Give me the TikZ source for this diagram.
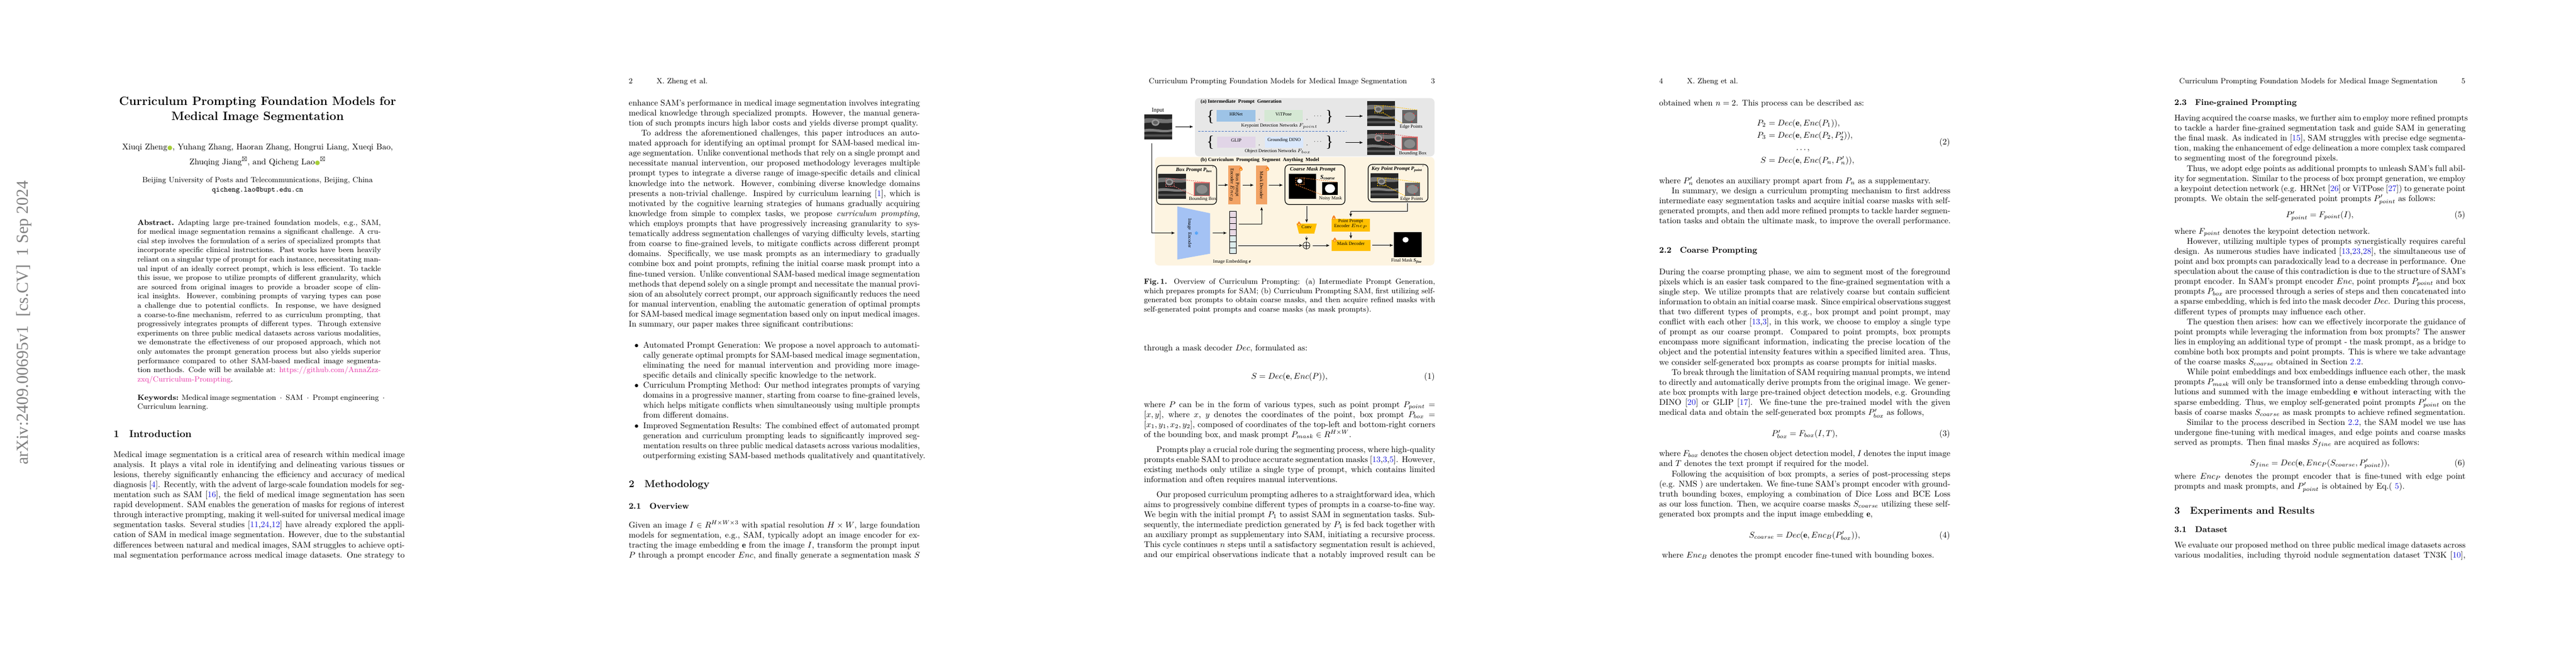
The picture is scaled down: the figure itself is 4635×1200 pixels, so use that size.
\documentclass[tikz,border=0pt]{standalone}
\usepackage{amsmath,amssymb}
\usepackage{fontspec}
\newfontfamily\figfont{Liberation Serif}
\newfontfamily\symfont{DejaVu Sans}
\usetikzlibrary{arrows,fit}

\definecolor{linkblue}{rgb}{0.1,0.1,0.85}
\definecolor{urlmag}{rgb}{0.9,0.2,0.65}
\definecolor{orcidgreen}{HTML}{A6CE39}
\definecolor{panelgray}{HTML}{E7E7E7}
\definecolor{panelcream}{HTML}{FDF4E1}
\definecolor{hrblue}{HTML}{9DC3E6}
\definecolor{vitgreen}{HTML}{D5E8D4}
\definecolor{glippur}{HTML}{E1D5E7}
\definecolor{dinoblue}{HTML}{DAE8FC}
\definecolor{orbox}{HTML}{F2A365}
\definecolor{gold}{HTML}{FFC000}
\definecolor{encblue}{HTML}{A4C2F4}
\definecolor{embpink}{HTML}{EAD9E4}
\definecolor{embcyan}{HTML}{DCEDEC}
\definecolor{dashblue}{HTML}{4472C4}
\definecolor{yeldash}{HTML}{FFC000}
\definecolor{reddash}{HTML}{E06666}
\definecolor{oradash}{HTML}{ED7D31}
\definecolor{snowblue}{HTML}{1E90FF}
\definecolor{flameor}{HTML}{F57C1F}
\definecolor{flameyel}{HTML}{FFD966}

\newcommand{\cb}[1]{\textcolor{linkblue}{#1}}
\newcommand{\orc}{{\symfont\fontsize{7}{7}\selectfont\textcolor{orcidgreen}{●}}}
\newcommand{\kwsep}{\enskip$\cdot$\enskip}
% one text block, set line by line
\newcommand{\tb}[2][12.2cm]{\begin{minipage}[t]{#1}#2\end{minipage}}
\newcommand{\jl}[1]{\hbox to \linewidth{#1}}
\newcommand{\el}[1]{\hbox{#1}}
\newcommand{\ind}{\hspace{15pt}}

\tikzset{
  usimg/.pic={
    \fill[black!85] (0,0) rectangle (50,45);
    \fill[black!55] (0,8) .. controls (15,5) and (35,11) .. (50,8) -- (50,15) .. controls (35,18) and (15,13) .. (0,16) -- cycle;
    \fill[black!50] (0,27) .. controls (18,24) and (32,31) .. (50,27) -- (50,31) .. controls (32,35) and (18,29) .. (0,32) -- cycle;
    \fill[black!68] (0,36) rectangle (50,40);
    \fill[black!40] (20,15) ellipse (7 and 6);
    \fill[black!62] (20,15) ellipse (4.5 and 3.5);
  },
  inset/.pic={
    \fill[black!60] (0,0) rectangle (27.3,23.7);
    \fill[black!45] (13.6,12) ellipse (10 and 8);
  },
  flame/.pic={
    \fill[flameor] (0,-4.5) .. controls (1,-2.5) and (3.2,-1.5) .. (3.2,0.8) .. controls (3.2,2.8) and (1.7,3.8) .. (0,3.8) .. controls (-1.7,3.8) and (-3.2,2.8) .. (-3.2,0.8) .. controls (-3.2,-1.5) and (-1,-2.5) .. (0,-4.5) -- cycle;
    \fill[flameyel] (0,-0.5) .. controls (1.2,0.5) and (1.8,1.5) .. (1.6,2.2) .. controls (1.4,3) and (-1.4,3) .. (-1.6,2.2) .. controls (-1.8,1.5) and (-1.2,0.5) .. (0,-0.5) -- cycle;
  }
}

\begin{document}
\begin{tikzpicture}[x=0.02329cm, y=-0.02329cm, >=stealth']
    \tikzstyle{txt}=[anchor=base west, inner sep=0pt]
    \tikzstyle{ctr}=[anchor=base, inner sep=0pt]
    \tikzstyle{rgt}=[anchor=base east, inner sep=0pt]
    \tikzstyle{head}=[anchor=base west, inner sep=0pt, font=\small]
    \tikzstyle{sect}=[anchor=base west, inner sep=0pt, font=\large\bfseries]
    \tikzstyle{subsect}=[anchor=base west, inner sep=0pt, font=\bfseries]
    \tikzstyle{flab}=[inner sep=0pt, font=\figfont\fontsize{5.6}{6.2}\selectfont]
    \tikzstyle{fbt}=[inner sep=0pt, font=\figfont\bfseries\itshape\fontsize{6.2}{7}\selectfont]
    \tikzstyle{ftitle}=[anchor=west, inner sep=0pt, font=\figfont\bfseries\fontsize{6}{7}\selectfont]
    \tikzstyle{fitbox}=[inner sep=0pt, outer sep=0pt]
    \tikzstyle{netbox}=[inner sep=0pt, outer sep=0pt, font=\figfont\fontsize{5.6}{6.2}\selectfont, align=center]
    \tikzstyle{brace}=[inner sep=0pt, font=\figfont\fontsize{19}{19}\selectfont]
    \tikzstyle{pframe}=[draw, line width=0.8pt, rounded corners=5pt, inner sep=0pt]
    \tikzstyle{arr}=[->, line width=0.4pt]
    \tikzstyle{ydash}=[yeldash, line width=0.6pt, dash pattern=on 1.5pt off 1pt]
    \tikzstyle{rdash}=[reddash, line width=0.6pt, dash pattern=on 1.5pt off 1pt]
    \tikzstyle{odash}=[oradash, line width=0.6pt, dash pattern=on 1.5pt off 1pt]

    \useasboundingbox (0,0) rectangle (4635,1200);
    \fill[white] (0,0) rectangle (4635,1200);

    % page 1
    \node[rotate=90, anchor=base west, inner sep=0pt, text=black!50, font=\figfont\fontsize{20}{20}\selectfont] (stamp) at (50.5,837) {arXiv:2409.00695v1\ \ [cs.CV]\ \ 1 Sep 2024};
    \node[ctr, font=\Large\bfseries] (title1) at (463.5,189) {Curriculum Prompting Foundation Models for};
    \node[ctr, font=\Large\bfseries] (title2) at (463.5,216) {Medical Image Segmentation};
    \node[ctr] (auth1) at (463.5,269) {Xiuqi Zheng\orc, Yuhang Zhang, Haoran Zhang, Hongrui Liang, Xueqi Bao,};
    \node[ctr] (auth2) at (463.5,296) {Zhuqing Jiang$^{\boxtimes}$, and Qicheng Lao\orc$^{\boxtimes}$};
    \node[ctr, font=\small] (inst) at (463.5,328) {Beijing University of Posts and Telecommunications, Beijing, China};
    \node[ctr, font=\small\ttfamily] (email) at (463.5,345) {qicheng.lao@bupt.edu.cn};
    \node[txt] (abstract) at (247,405) {\tb[10.2cm]{\small
        \jl{\textbf{Abstract.}\enspace Adapting large pre-trained foundation models, e.g., SAM,}
        \jl{for medical image segmentation remains a significant challenge. A cru-}
        \jl{cial step involves the formulation of a series of specialized prompts that}
        \jl{incorporate specific clinical instructions. Past works have been heavily}
        \jl{reliant on a singular type of prompt for each instance, necessitating man-}
        \jl{ual input of an ideally correct prompt, which is less efficient. To tackle}
        \jl{this issue, we propose to utilize prompts of different granularity, which}
        \jl{are sourced from original images to provide a broader scope of clin-}
        \jl{ical insights. However, combining prompts of varying types can pose}
        \jl{a challenge due to potential conflicts. In response, we have designed}
        \jl{a coarse-to-fine mechanism, referred to as curriculum prompting, that}
        \jl{progressively integrates prompts of different types. Through extensive}
        \jl{experiments on three public medical datasets across various modalities,}
        \jl{we demonstrate the effectiveness of our proposed approach, which not}
        \jl{only automates the prompt generation process but also yields superior}
        \jl{performance compared to other SAM-based medical image segmenta-}
        \jl{tion methods. Code will be available at: \textcolor{urlmag}{https://github.com/AnnaZzz-}}
        \el{\textcolor{urlmag}{zxq/Curriculum-Prompting}.}}};
    \node[txt] (keywords) at (247,720) {\tb[10.2cm]{\small
        \jl{\textbf{Keywords:} Medical image segmentation\kwsep SAM\kwsep Prompt engineering\enskip$\cdot$}
        \el{Curriculum learning.}}};
    \node[sect] (sec1) at (204,787) {1\quad Introduction};
    \node[txt] (intro) at (204,823) {\tb{
        \jl{Medical image segmentation is a critical area of research within medical image}
        \jl{analysis. It plays a vital role in identifying and delineating various tissues or}
        \jl{lesions, thereby significantly enhancing the efficiency and accuracy of medical}
        \jl{diagnosis [\cb{4}]. Recently, with the advent of large-scale foundation models for seg-}
        \jl{mentation such as SAM [\cb{16}], the field of medical image segmentation has seen}
        \jl{rapid development. SAM enables the generation of masks for regions of interest}
        \jl{through interactive prompting, making it well-suited for universal medical image}
        \jl{segmentation tasks. Several studies [\cb{11},\cb{24},\cb{12}] have already explored the appli-}
        \jl{cation of SAM in medical image segmentation. However, due to the substantial}
        \jl{differences between natural and medical images, SAM struggles to achieve opti-}
        \jl{mal segmentation performance across medical image datasets. One strategy to}}};

    % page 2
    \node[head] (pn2) at (1131,150) {2};
    \node[head] (rh2) at (1181,150) {X. Zheng et al.};
    \node[txt] (p2a) at (1131,190) {\tb{
        \jl{enhance SAM's performance in medical image segmentation involves integrating}
        \jl{medical knowledge through specialized prompts. However, the manual genera-}
        \el{tion of such prompts incurs high labor costs and yields diverse prompt quality.}}};
    \node[txt] (p2b) at (1131,244.5) {\tb{
        \jl{\ind To address the aforementioned challenges, this paper introduces an auto-}
        \jl{mated approach for identifying an optimal prompt for SAM-based medical im-}
        \jl{age segmentation. Unlike conventional methods that rely on a single prompt and}
        \jl{necessitate manual intervention, our proposed methodology leverages multiple}
        \jl{prompt types to integrate a diverse range of image-specific details and clinical}
        \jl{knowledge into the network. However, combining diverse knowledge domains}
        \jl{presents a non-trivial challenge. Inspired by curriculum learning [\cb{1}], which is}
        \jl{motivated by the cognitive learning strategies of humans gradually acquiring}
        \jl{knowledge from simple to complex tasks, we propose \emph{curriculum prompting},}
        \jl{which employs prompts that have progressively increasing granularity to sys-}
        \jl{tematically address segmentation challenges of varying difficulty levels, starting}
        \jl{from coarse to fine-grained levels, to mitigate conflicts across different prompt}
        \jl{domains. Specifically, we use mask prompts as an intermediary to gradually}
        \jl{combine box and point prompts, refining the initial coarse mask prompt into a}
        \jl{fine-tuned version. Unlike conventional SAM-based medical image segmentation}
        \jl{methods that depend solely on a single prompt and necessitate the manual provi-}
        \jl{sion of an absolutely correct prompt, our approach significantly reduces the need}
        \jl{for manual intervention, enabling the automatic generation of optimal prompts}
        \jl{for SAM-based medical image segmentation based only on input medical images.}
        \el{In summary, our paper makes three significant contributions:}}};
    \node[ctr] (bul1) at (1145.3,626) {$\bullet$};
    \node[txt] (item1) at (1157,626) {\tb[11.59cm]{
        \jl{Automated Prompt Generation: We propose a novel approach to automati-}
        \jl{cally generate optimal prompts for SAM-based medical image segmentation,}
        \jl{eliminating the need for manual intervention and providing more image-}
        \el{specific details and clinically specific knowledge to the network.}}};
    \node[ctr] (bul2) at (1145.3,698.6) {$\bullet$};
    \node[txt] (item2) at (1157,698.6) {\tb[11.59cm]{
        \jl{Curriculum Prompting Method: Our method integrates prompts of varying}
        \jl{domains in a progressive manner, starting from coarse to fine-grained levels,}
        \jl{which helps mitigate conflicts when simultaneously using multiple prompts}
        \el{from different domains.}}};
    \node[ctr] (bul3) at (1145.3,771.2) {$\bullet$};
    \node[txt] (item3) at (1157,771.2) {\tb[11.59cm]{
        \jl{Improved Segmentation Results: The combined effect of automated prompt}
        \jl{generation and curriculum prompting leads to significantly improved seg-}
        \jl{mentation results on three public medical datasets across various modalities,}
        \el{outperforming existing SAM-based methods qualitatively and quantitatively.}}};
    \node[sect] (sec2) at (1131,877) {2\quad Methodology};
    \node[subsect] (sec21) at (1131,916) {2.1\quad Overview};
    \node[txt] (p2c) at (1131,950) {\tb{
        \jl{Given an image $I \in R^{H\times W\times 3}$ with spatial resolution $H\times W$, large foundation}
        \jl{models for segmentation, e.g., SAM, typically adopt an image encoder for ex-}
        \jl{tracting the image embedding $\mathbf{e}$ from the image $I$, transform the prompt input}
        \jl{$P$ through a prompt encoder $Enc$, and finally generate a segmentation mask $S$}}};

    % page 3: header and figure
    \node[rgt, font=\small] (rh3) at (2532,150) {Curriculum Prompting Foundation Models for Medical Image Segmentation};
    \node[rgt, font=\small] (pn3) at (2582,150) {3};

    \node[fitbox, fill=panelgray, rounded corners=5pt, fit={(2150,176.7) (2581,281.7)}] (panA) {};
    \node[fitbox, fill=panelcream, rounded corners=5pt, fit={(2078,282.7) (2581,478)}] (panB) {};
    \node[ftitle] (titA) at (2160,183.3) {(a) Intermediate\ \ Prompt\ \ Generation};
    \node[ftitle] (titB) at (2160,288.3) {(b) Curriculum\ \ Prompting\ \ Segment\ \ Anything\ \ Model};

    \node[flab, font=\figfont\fontsize{7}{8}\selectfont] (inlab) at (2083.5,199) {Input};
    \pic at (2059,205.7) {usimg};
    \node[fitbox, fit={(2059,205.7) (2108,250.7)}] (inimg) {};

    \node[brace] (lb1) at (2178,210.5) {\{};
    \node[brace] (rb1) at (2392,210.5) {\}};
    \node[brace] (lb2) at (2178,256) {\{};
    \node[brace] (rb2) at (2392,256) {\}};
    \node[netbox, fill=hrblue, fit={(2189,198) (2259,219)}] (hrnet) {HRNet};
    \node[netbox, fill=vitgreen, fit={(2275,198) (2344,219)}] (vitpose) {ViTPose};
    \node[netbox, fill=glippur, fit={(2190,245.7) (2259,265.7)}] (glip) {GLIP};
    \node[netbox, fill=dinoblue, fit={(2276,245.7) (2345,265.7)}] (dino) {Grounding DINO};
    \node[flab] (cm1) at (2266,216) {,};
    \node[flab] (cm2) at (2352,216) {,};
    \node[flab] (cm3) at (2266,261.7) {,};
    \node[flab] (cm4) at (2352,261.7) {,};
    \node[flab] (dt1) at (2372,209) {$\cdots$};
    \node[flab] (dt2) at (2372,255.7) {$\cdots$};
    \node[flab] (kplab) at (2302,226.7) {Keypoint Detection Networks $F_{point}$};
    \node[flab] (odlab) at (2299,272.7) {Object Detection Networks $F_{box}$};
    \draw[dashblue, line width=0.6pt, dash pattern=on 2.5pt off 1.5pt] (2156,236.7) -- (2423,236.7);

    % outputs of (a)
    \pic at (2460,181.7) {usimg};
    \node[fitbox, fit={(2460,181.7) (2510,226.7)}] (us1) {};
    \pic at (2522.7,198) {inset};
    \node[fitbox, fit={(2522.7,198) (2550,221.7)}] (in1) {};
    \node[fitbox, draw=yeldash, line width=0.6pt, dash pattern=on 1.5pt off 1pt, fit={(2473,190) (2488,203)}] (bx1) {};
    \draw[ydash] (bx1.north east) -- (in1.north east);
    \draw[ydash] (bx1.south east) -- (in1.south west);
    \fill[red!85] (2526.5,206.5) circle (1) (2543,204.5) circle (1) (2547,208) circle (1) (2540,219) circle (1);
    \node[flab] (eplab1) at (2539,228.3) {Edge Points};

    \pic at (2460,234) {usimg};
    \node[fitbox, fit={(2460,234) (2510,279)}] (us2) {};
    \pic at (2522.7,247) {inset};
    \node[fitbox, draw=reddash, line width=0.8pt, fit={(2522.7,247) (2550,270)}] (in2) {};
    \node[fitbox, draw=reddash, line width=0.6pt, dash pattern=on 1.5pt off 1pt, fit={(2475,240) (2489,252.7)}] (bx2) {};
    \draw[rdash] (bx2.north east) -- (in2.north east);
    \draw[rdash] (bx2.south east) -- (in2.south west);
    \node[flab] (bblab2) at (2542,276) {Bounding Box};

    \coordinate (ar1) at (2420.7,209);
    \coordinate (ar2) at (2420.7,256.7);
    \draw[arr, shorten >=5.5pt] (ar1) -- (ar1 -| us1.west);
    \draw[arr, shorten >=5.5pt] (ar2) -- (ar2 -| us2.west);

    % (b) box prompt branch
    \node[pframe, fit={(2081,298) (2189,368)}] (bpbox) {};
    \node[fbt] (bptit) at (2150,305.5) {Box Prompt P\textsubscript{box}\textsuperscript{\textquoteright}};
    \pic at (2084,312.7) {usimg};
    \pic at (2149,329) {inset};
    \node[fitbox, draw=reddash, line width=0.8pt, fit={(2149,329) (2176.7,352.7)}] (in3) {};
    \node[fitbox, draw=reddash, line width=0.6pt, dash pattern=on 1.5pt off 1pt, fit={(2097.7,321.7) (2112.7,335.7)}] (bx3) {};
    \draw[rdash] (bx3.north east) -- (in3.north east);
    \draw[rdash] (bx3.south east) -- (in3.south west);
    \node[flab] (bblab3) at (2164,358.3) {Bounding Box};

    \node[fitbox, fill=orbox, fit={(2210,298.3) (2231.7,368.3)}] (bpenc) {};
    \node[flab, rotate=-90, align=center] (bpenclab) at (bpenc.center) {Box Prompt\\Encoder $Enc_B$};
    \pic at (2232.7,304) {flame};
    \node[fitbox, fill=orbox, fit={(2260,298.3) (2280,368.3)}] (mdec1) {};
    \node[flab, rotate=-90] (mdec1lab) at (mdec1.center) {Mask Decoder};
    \pic at (2280.5,304) {flame};

    % coarse mask prompt
    \node[pframe, fit={(2312,296.7) (2420,368.3)}] (cmbox) {};
    \node[fbt] (cmtit) at (2362,305.5) {Coarse Mask Prompt};
    \node[fbt, font=\figfont\bfseries\itshape\fontsize{7}{8}\selectfont] (scoarse) at (2389,319.5) {S\textsubscript{coarse}};
    \node[fitbox, fill=black, fit={(2319,313.3) (2368,358.3)}] (cmimg) {};
    \fill[white] (2338.5,326) ellipse (4.5 and 4);
    \node[fitbox, fill=black, fit={(2379,328) (2407,351)}] (in5) {};
    \fill[white] (2393,339.5) ellipse (9 and 8);
    \node[fitbox, draw=oradash, line width=0.6pt, dash pattern=on 1.5pt off 1pt, fit={(2331.7,320.7) (2346.7,332.7)}] (bx5) {};
    \draw[odash] (bx5.north east) -- (in5.north east);
    \draw[odash] (bx5.south west) -- (in5.south west);
    \node[flab] (nmlab) at (2394,357.7) {Noisy Mask};

    % key point prompt
    \node[pframe, fit={(2461.7,296) (2569.3,363.3)}] (kpbox) {};
    \node[fbt] (kptit) at (2515,304) {Key Point Prompt P\textsubscript{point}\textsuperscript{\textquoteright}};
    \pic at (2465.7,311.7) {usimg};
    \pic at (2528,329) {inset};
    \node[fitbox, fit={(2528,329) (2555,352.7)}] (in6) {};
    \node[fitbox, draw=yeldash, line width=0.6pt, dash pattern=on 1.5pt off 1pt, fit={(2478,320) (2493,334)}] (bx6) {};
    \draw[ydash] (bx6.north east) -- (in6.north east);
    \draw[ydash] (bx6.south east) -- (in6.south west);
    \fill[red!85] (2532,336) circle (1) (2547,334.5) circle (1) (2552,338) circle (1) (2545,349) circle (1);
    \node[flab] (eplab6) at (2540,358.3) {Edge Points};

    % encoder and embedding
    \fill[encblue] (2118.3,371.7) -- (2177.3,384) -- (2177.3,456.7) -- (2118.3,467.3) -- cycle;
    \node[fitbox, fit={(2118.3,371.7) (2177.3,467.3)}] (imgenc) {};
    \node[flab, rotate=-90] (imgenclab) at (2140,420) {Image\ \ Encoder};
    \node[inner sep=0pt, text=snowblue, font=\symfont\fontsize{6}{6}\selectfont] (snow) at (2153,420) {❄};
    \foreach \i/\c in {0/embpink,1/embpink,2/embpink,3/embpink,4/embcyan,5/embcyan,6/embcyan}
        \draw[fill=\c, line width=0.4pt] (2212.7,380.7+\i*10.857) rectangle +(11.3,10.857);
    \node[fitbox, fit={(2212.7,380.7) (2224,456.7)}] (emb) {};
    \node[flab] (emblab) at (2216.7,471) {Image Embedding \textbf{\textit{e}}};

    % fine branch
    \fill[gold] (2332.7,402.7) -- (2369.3,402.7) -- (2364.7,420.7) -- (2337.3,420.7) -- cycle;
    \node[netbox, fit={(2332.7,402.7) (2369.3,420.7)}] (conv) {Conv};
    \pic at (2337.3,403) {flame};
    \node[circle, draw, line width=0.5pt, minimum size=8.3pt, inner sep=0pt] (sum) at (2350.7,442) {};
    \draw[line width=0.5pt] (sum.north) -- (sum.south) (sum.west) -- (sum.east);
    \node[netbox, fill=gold, fit={(2395.7,394.3) (2465,417.3)}] (ppenc) {Point Prompt\\Encoder $Enc_P$};
    \pic at (2400,392) {flame};
    \node[netbox, fill=gold, fit={(2395.7,431.7) (2465.7,451.7)}] (mdec2) {Mask Decoder};
    \pic at (2401.7,432) {flame};
    \node[fitbox, fill=black, fit={(2508.3,417.7) (2558.3,462.7)}] (fmask) {};
    \fill[white] (2529,431.7) ellipse (5.5 and 5);
    \node[flab] (fmlab) at (2530.7,470) {Final Mask \textbf{\textit{S\textsubscript{fine}}}};

    % connectors
    \draw[arr, shorten <=4.6pt, shorten >=2.6pt] (inimg.east) -- (inimg.east -| panA.west);
    \coordinate (intap) at (2072.7,250.7);
    \draw[arr, shorten <=4.8pt, shorten >=3.3pt] (intap) |- (imgenc.west);
    \draw[arr, shorten <=2.9pt, shorten >=4pt] (imgenc.east) -- (imgenc.east -| emb.west);
    \coordinate (embA) at (2224,403.3);
    \coordinate (embB) at (2224,442);
    \draw[arr, shorten <=3.5pt, shorten >=3.3pt] (embA) -| (mdec1.south);
    \draw[arr, shorten <=2.7pt, shorten >=0.5pt] (embB) -- (sum.west);
    \draw[arr, shorten <=1.3pt, shorten >=0.6pt] (bpbox.east) -- (bpbox.east -| bpenc.west);
    \draw[arr, shorten <=2.8pt, shorten >=3.3pt] (bpenc.east) -- (mdec1.west);
    \draw[arr, shorten <=1.8pt, shorten >=2.6pt] (mdec1.east) -- (mdec1.east -| cmbox.west);
    \draw[arr, shorten <=1.6pt, shorten >=1.5pt] (cmbox.south -| conv.north) -- (conv.north);
    \draw[arr, shorten <=2.8pt, shorten >=1.5pt] (conv.south) -- (sum.north);
    \draw[arr, shorten <=3pt, shorten >=2.6pt] (sum.east) -- (sum.east -| mdec2.west);
    \coordinate (kpout) at (2532.3,363.3);
    \draw[arr, shorten <=1.6pt, shorten >=2.8pt] (kpout) -- ++(0,16.7) -| (ppenc.north);
    \draw[arr, shorten <=0.6pt, shorten >=1.6pt] (ppenc.south) -- (mdec2.north);
    \draw[arr, shorten <=2.2pt, shorten >=1.5pt] (mdec2.east) -- (mdec2.east -| fmask.west);

    % page 3 text
    \node[txt] (caption) at (2058,511.5) {\tb{\small
        \jl{\textbf{Fig.\,1.} Overview of Curriculum Prompting: (a) Intermediate Prompt Generation,}
        \jl{which prepares prompts for SAM; (b) Curriculum Prompting SAM, first utilizing self-}
        \jl{generated box prompts to obtain coarse masks, and then acquire refined masks with}
        \el{self-generated point prompts and coarse masks (as mask prompts).}}};
    \node[txt] (p3a) at (2058,631) {through a mask decoder $Dec$, formulated as:};
    \node[ctr] (eq1) at (2320,682) {$S = Dec(\mathbf{e}, Enc(P)),$};
    \node[rgt] (eqn1) at (2582,682) {(1)};
    \node[txt] (p3b) at (2058,733) {\tb{
        \jl{where $P$ can be in the form of various types, such as point prompt $P_{point} =$}
        \jl{$[x, y]$, where $x$, $y$ denotes the coordinates of the point, box prompt $P_{box} =$}
        \jl{$[x_1, y_1, x_2, y_2]$, composed of coordinates of the top-left and bottom-right corners}
        \el{of the bounding box, and mask prompt $P_{mask} \in R^{H\times W}$.}}};
    \node[txt] (p3c) at (2058,814) {\tb{
        \jl{\ind Prompts play a crucial role during the segmenting process, where high-quality}
        \jl{prompts enable SAM to produce accurate segmentation masks [\cb{13},\cb{3},\cb{5}]. However,}
        \jl{existing methods only utilize a single type of prompt, which contains limited}
        \el{information and often requires manual interventions.}}};
    \node[txt] (p3d) at (2058,895) {\tb{
        \jl{\ind Our proposed curriculum prompting adheres to a straightforward idea, which}
        \jl{aims to progressively combine different types of prompts in a coarse-to-fine way.}
        \jl{We begin with the initial prompt $P_1$ to assist SAM in segmentation tasks. Sub-}
        \jl{sequently, the intermediate prediction generated by $P_1$ is fed back together with}
        \jl{an auxiliary prompt as supplementary into SAM, initiating a recursive process.}
        \jl{This cycle continues $n$ steps until a satisfactory segmentation result is achieved,}
        \jl{and our empirical observations indicate that a notably improved result can be}}};

    % page 4
    \node[head] (pn4) at (2985,150) {4};
    \node[head] (rh4) at (3035,150) {X. Zheng et al.};
    \node[txt] (p4a) at (2985,190) {obtained when $n = 2$. This process can be described as:};
    \node[rgt] (eq2l1) at (3178,226) {$P_2$};
    \node[txt] (eq2r1) at (3178,226) {${}= Dec(\mathbf{e}, Enc(P_1)),$};
    \node[rgt] (eq2l2) at (3178,248.5) {$P_3$};
    \node[txt] (eq2r2) at (3178,248.5) {${}= Dec(\mathbf{e}, Enc(P_2, P'_2)),$};
    \node[ctr] (eq2d) at (3244,270) {$\dots,$};
    \node[rgt] (eq2l4) at (3178,293) {$S$};
    \node[txt] (eq2r4) at (3178,293) {${}= Dec(\mathbf{e}, Enc(P_n, P'_n)),$};
    \node[rgt] (eqn2) at (3509,260) {(2)};
    \node[txt] (p4b) at (2985,330) {where $P'_n$ denotes an auxiliary prompt apart from $P_n$ as a supplementary.};
    \node[txt] (p4c) at (2985,348.5) {\tb{
        \jl{\ind In summary, we design a curriculum prompting mechanism to first address}
        \jl{intermediate easy segmentation tasks and acquire initial coarse masks with self-}
        \jl{generated prompts, and then add more refined prompts to tackle harder segmen-}
        \el{tation tasks and obtain the ultimate mask, to improve the overall performance.}}};
    \node[subsect] (sec22) at (2985,455) {2.2\quad Coarse Prompting};
    \node[txt] (p4d) at (2985,494) {\tb{
        \jl{During the coarse prompting phase, we aim to segment most of the foreground}
        \jl{pixels which is an easier task compared to the fine-grained segmentation with a}
        \jl{single step. We utilize prompts that are relatively coarse but contain sufficient}
        \jl{information to obtain an initial coarse mask. Since empirical observations suggest}
        \jl{that two different types of prompts, e.g., box prompt and point prompt, may}
        \jl{conflict with each other [\cb{13},\cb{3}], in this work, we choose to employ a single type}
        \jl{of prompt as our coarse prompt. Compared to point prompts, box prompts}
        \jl{encompass more significant information, indicating the precise location of the}
        \jl{object and the potential intensity features within a specified limited area. Thus,}
        \el{we consider self-generated box prompts as coarse prompts for initial masks.}}};
    \node[txt] (p4e) at (2985,675.5) {\tb{
        \jl{\ind To break through the limitation of SAM requiring manual prompts, we intend}
        \jl{to directly and automatically derive prompts from the original image. We gener-}
        \jl{ate box prompts with large pre-trained object detection models, e.g. Grounding}
        \jl{DINO [\cb{20}] or GLIP [\cb{17}]. We fine-tune the pre-trained model with the given}
        \el{medical data and obtain the self-generated box prompts $P'_{box}$ as follows,}}};
    \node[ctr] (eq3) at (3247,785.5) {$P'_{box} = F_{box}(I, T),$};
    \node[rgt] (eqn3) at (3509,785.5) {(3)};
    \node[txt] (p4f) at (2985,821) {\tb{
        \jl{where $F_{box}$ denotes the chosen object detection model, $I$ denotes the input image}
        \el{and $T$ denotes the text prompt if required for the model.}}};
    \node[txt] (p4g) at (2985,858) {\tb{
        \jl{\ind Following the acquisition of box prompts, a series of post-processing steps}
        \jl{(e.g. NMS ) are undertaken. We fine-tune SAM's prompt encoder with ground-}
        \jl{truth bounding boxes, employing a combination of Dice Loss and BCE Loss}
        \jl{as our loss function. Then, we acquire coarse masks $S_{coarse}$ utilizing these self-}
        \el{generated box prompts and the input image embedding $\mathbf{e}$,}}};
    \node[ctr] (eq4) at (3247,968) {$S_{coarse} = Dec(\mathbf{e}, Enc_B(P'_{box})),$};
    \node[rgt] (eqn4) at (3509,968) {(4)};
    \node[txt] (p4h) at (2985,1004) {\ where $Enc_B$ denotes the prompt encoder fine-tuned with bounding boxes.};

    % page 5
    \node[rgt, font=\small] (rh5) at (4386,150) {Curriculum Prompting Foundation Models for Medical Image Segmentation};
    \node[rgt, font=\small] (pn5) at (4436,150) {5};
    \node[subsect] (sec23) at (3912,189) {2.3\quad Fine-grained Prompting};
    \node[txt] (p5a) at (3912,217.5) {\tb{
        \jl{Having acquired the coarse masks, we further aim to employ more refined prompts}
        \jl{to tackle a harder fine-grained segmentation task and guide SAM in generating}
        \jl{the final mask. As indicated in [\cb{15}], SAM struggles with precise edge segmenta-}
        \jl{tion, making the enhancement of edge delineation a more complex task compared}
        \el{to segmenting most of the foreground pixels.}}};
    \node[txt] (p5b) at (3912,308) {\tb{
        \jl{\ind Thus, we adopt edge points as additional prompts to unleash SAM's full abil-}
        \jl{ity for segmentation. Similar to the process of box prompt generation, we employ}
        \jl{a keypoint detection network (e.g. HRNet [\cb{26}] or ViTPose [\cb{27}]) to generate point}
        \el{prompts. We obtain the self-generated point prompts $P'_{point}$ as follows:}}};
    \node[ctr] (eq5) at (4174,391.5) {$P'_{point} = F_{point}(I),$};
    \node[rgt] (eqn5) at (4436,391.5) {(5)};
    \node[txt] (p5c) at (3912,421) {where $F_{point}$ denotes the keypoint detection network.};
    \node[txt] (p5d) at (3912,439.2) {\tb{
        \jl{\ind However, utilizing multiple types of prompts synergistically requires careful}
        \jl{design. As numerous studies have indicated [\cb{13},\cb{23},\cb{28}], the simultaneous use of}
        \jl{point and box prompts can paradoxically lead to a decrease in performance. One}
        \jl{speculation about the cause of this contradiction is due to the structure of SAM's}
        \jl{prompt encoder. In SAM's prompt encoder $Enc$, point prompts $P_{point}$ and box}
        \jl{prompts $P_{box}$ are processed through a series of steps and then concatenated into}
        \jl{a sparse embedding, which is fed into the mask decoder $Dec$. During this process,}
        \el{different types of prompts may influence each other.}}};
    \node[txt] (p5e) at (3912,584) {\tb{
        \jl{\ind The question then arises: how can we effectively incorporate the guidance of}
        \jl{point prompts while leveraging the information from box prompts? The answer}
        \jl{lies in employing an additional type of prompt - the mask prompt, as a bridge to}
        \jl{combine both box prompts and point prompts. This is where we take advantage}
        \el{of the coarse masks $S_{coarse}$ obtained in Section \cb{2.2}.}}};
    \node[txt] (p5f) at (3912,674.7) {\tb{
        \jl{\ind While point embeddings and box embeddings influence each other, the mask}
        \jl{prompts $P_{mask}$ will only be transformed into a dense embedding through convo-}
        \jl{lutions and summed with the image embedding $\mathbf{e}$ without interacting with the}
        \jl{sparse embedding. Thus, we employ self-generated point prompts $P'_{point}$ on the}
        \el{basis of coarse masks $S_{coarse}$ as mask prompts to achieve refined segmentation.}}};
    \node[txt] (p5g) at (3912,765.3) {\tb{
        \jl{\ind Similar to the process described in Section \cb{2.2}, the SAM model we use has}
        \jl{undergone fine-tuning with medical images, and edge points and coarse masks}
        \el{served as prompts. Then final masks $S_{fine}$ are acquired as follows:}}};
    \node[ctr] (eq6) at (4174,838) {$S_{fine} = Dec(\mathbf{e}, Enc_P(S_{coarse}, P'_{point})),$};
    \node[rgt] (eqn6) at (4436,838) {(6)};
    \node[txt] (p5h) at (3912,862) {\tb{
        \jl{where $Enc_P$ denotes the prompt encoder that is fine-tuned with edge point}
        \el{prompts and mask prompts, and $P'_{point}$ is obtained by Eq.( \cb{5}).}}};
    \node[sect] (sec3) at (3912,925) {3\quad Experiments and Results};
    \node[subsect] (sec31) at (3912,958) {3.1\quad Dataset};
    \node[txt] (p5i) at (3912,986) {\tb{
        \jl{We evaluate our proposed method on three public medical image datasets across}
        \jl{various modalities, including thyroid nodule segmentation dataset TN3K [\cb{10}],}}};
\end{tikzpicture}
\end{document}
